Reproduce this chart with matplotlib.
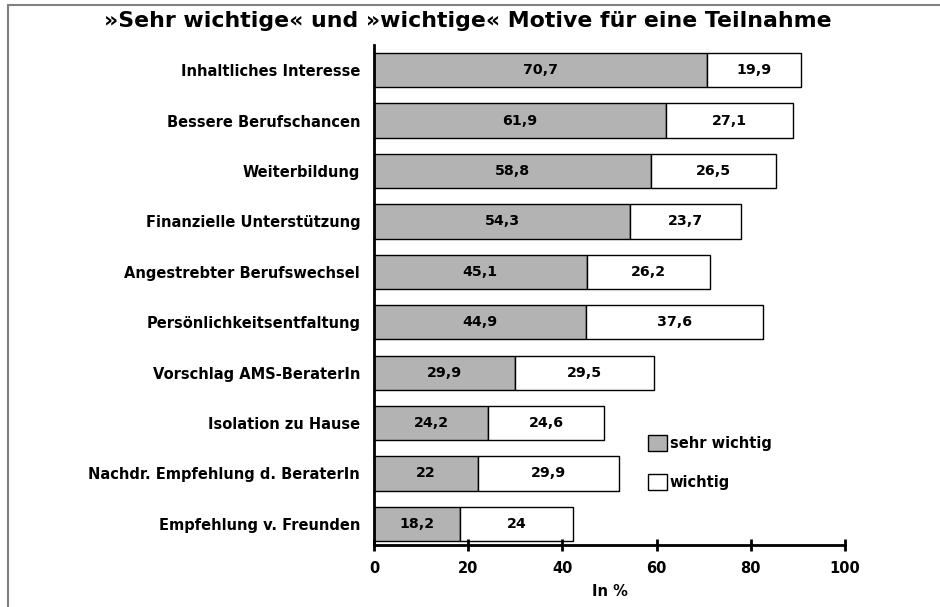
import matplotlib
matplotlib.use("Agg")
import matplotlib.pyplot as plt
from matplotlib.patches import Rectangle

plt.rcParams['font.family'] = ['DejaVu Sans']
plt.rcParams['font.weight'] = 'bold'

categories = ["Inhaltliches Interesse", "Bessere Berufschancen", "Weiterbildung",
              "Finanzielle Unterstützung", "Angestrebter Berufswechsel",
              "Persönlichkeitsentfaltung", "Vorschlag AMS-BeraterIn",
              "Isolation zu Hause", "Nachdr. Empfehlung d. BeraterIn",
              "Empfehlung v. Freunden"]
sehr_wichtig = [70.7, 61.9, 58.8, 54.3, 45.1, 44.9, 29.9, 24.2, 22, 18.2]
wichtig = [19.9, 27.1, 26.5, 23.7, 26.2, 37.6, 29.5, 24.6, 29.9, 24]
xticks = [0, 20, 40, 60, 80, 100]

def fmt(v):
    return f"{v:g}".replace('.', ',')

FS = 10.5

fig = plt.figure(figsize=(9.4, 6.07), dpi=100)
ax = fig.add_axes([0.398, 0.102, 0.501, 0.824])

y = list(range(len(categories)))
gray = '#b3b3b3'
b1 = ax.barh(y, sehr_wichtig, height=0.68, color=gray, edgecolor='black', linewidth=1.0)
b2 = ax.barh(y, wichtig, left=sehr_wichtig, height=0.68, color='white', edgecolor='black', linewidth=1.0)

for i in y:
    ax.text(sehr_wichtig[i] / 2, i, fmt(sehr_wichtig[i]), ha='center', va='center',
            fontsize=10.2, fontweight='bold')
    ax.text(sehr_wichtig[i] + wichtig[i] / 2, i, fmt(wichtig[i]), ha='center', va='center',
            fontsize=10.2, fontweight='bold')

ax.set_xlim(0, 100)
ax.set_ylim(9.42, -0.5)
ax.set_yticks(y)
ax.set_yticklabels(categories, fontsize=FS, fontweight='bold')
ax.tick_params(axis='y', length=0, pad=10)
ax.set_xticks(xticks)
ax.set_xticklabels([str(t) for t in xticks], fontsize=FS, fontweight='bold')
ax.tick_params(axis='x', direction='inout', length=9, width=2, pad=7)
for s in ['top', 'right']:
    ax.spines[s].set_visible(False)
ax.spines['left'].set_linewidth(2)
ax.spines['bottom'].set_linewidth(2)
ax.set_xlabel("In %", fontsize=FS, fontweight='bold', labelpad=6)

leg = ax.legend([b1, b2], ["sehr wichtig", "wichtig"], loc='upper left',
                bbox_to_anchor=(0.56, 0.24), frameon=False, fontsize=FS,
                handlelength=1.3, handleheight=1.3, handletextpad=0.2,
                labelspacing=1.6, borderpad=0.2)
for t in leg.get_texts():
    t.set_fontweight('bold')

fig.text(0.498, 0.965, "»Sehr wichtige« und »wichtige« Motive für eine Teilnahme",
         ha='center', va='center', fontsize=15.8, fontweight='bold')

fig.patches.append(Rectangle((8 / 940, -0.05), 1.2, 1 - 5 / 607 + 0.05,
                             transform=fig.transFigure, fill=False,
                             edgecolor='#808080', linewidth=1.5))

fig.savefig("out.png", dpi=100)
